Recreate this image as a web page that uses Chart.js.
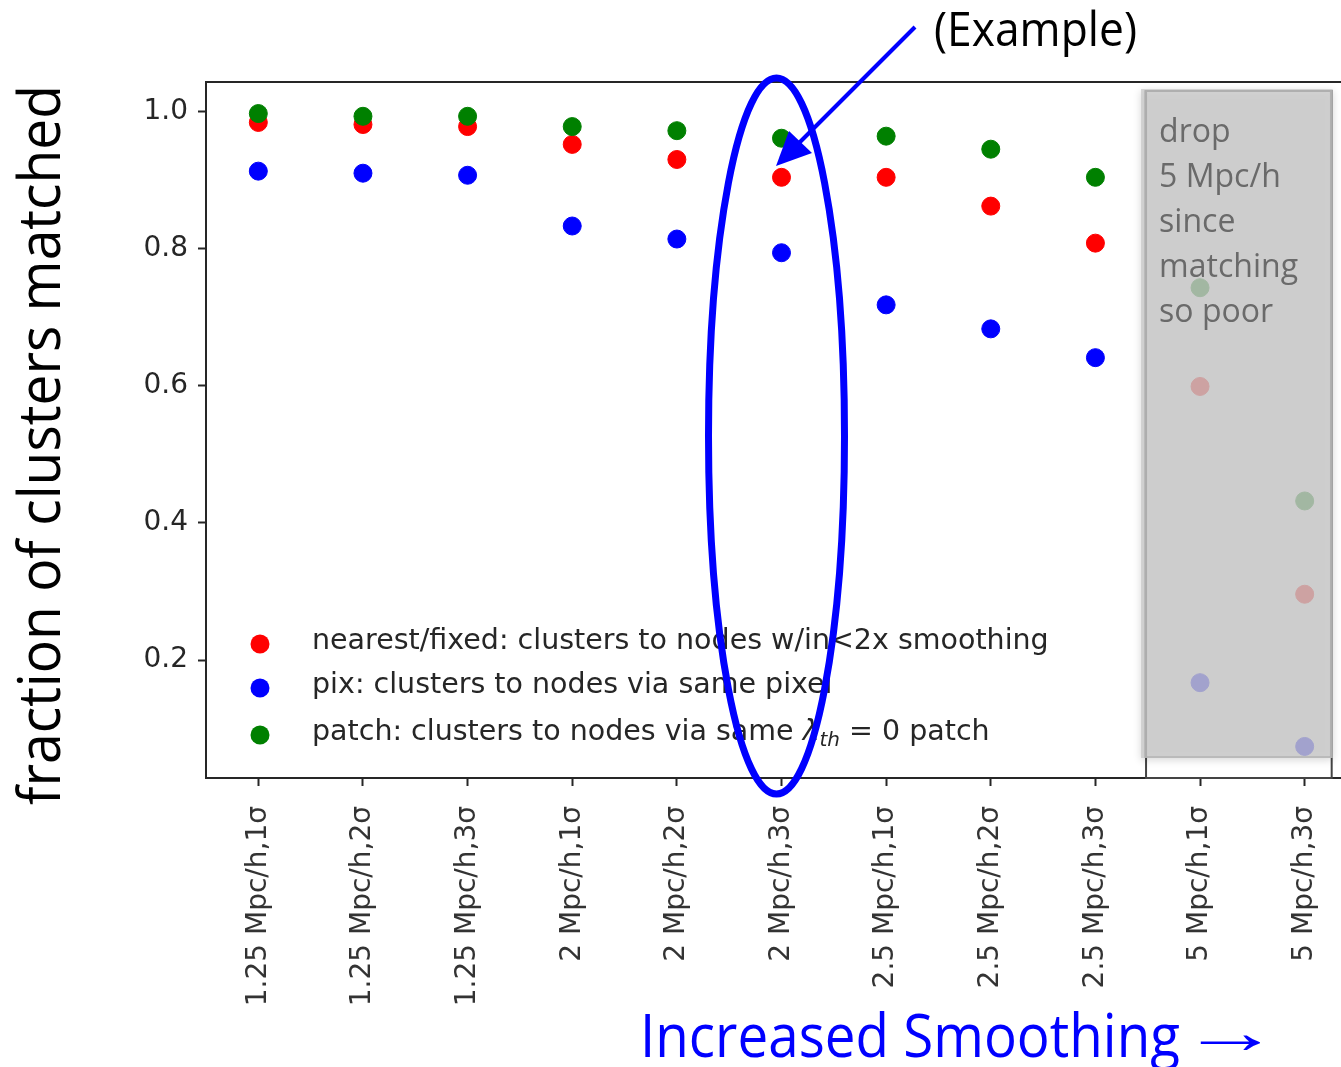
<!DOCTYPE html>
<html>
<head>
<meta charset="utf-8">
<title>fraction of clusters matched</title>
<script src="https://cdn.jsdelivr.net/npm/chart.js@4.4.0/dist/chart.umd.min.js"></script>
<style>
    html, body { margin: 0; padding: 0; background: #fff; overflow: hidden; }
    #wrap { position: relative; width: 1341px; height: 1067px; overflow: hidden; }
    canvas { display: block; }
</style>
</head>
<body>
<div id="wrap"><canvas id="graficoMatch" width="1367" height="1067"></canvas></div>
<script>

const smoothingLabels = ['1.25 Mpc/h,1σ', '1.25 Mpc/h,2σ', '1.25 Mpc/h,3σ', '2 Mpc/h,1σ', '2 Mpc/h,2σ', '2 Mpc/h,3σ',
    '2.5 Mpc/h,1σ', '2.5 Mpc/h,2σ', '2.5 Mpc/h,3σ', '5 Mpc/h,1σ', '5 Mpc/h,3σ'];

const nearestValues = [0.984, 0.981, 0.978, 0.952, 0.930, 0.904, 0.904, 0.862, 0.808, 0.599, 0.296];
const pixValues = [0.913, 0.910, 0.907, 0.833, 0.814, 0.794, 0.718, 0.683, 0.641, 0.167, 0.074];
const patchValues = [0.997, 0.993, 0.993, 0.978, 0.972, 0.961, 0.964, 0.945, 0.904, 0.743, 0.432];

const seriesLabels = ['nearest/fixed: clusters to nodes w/in<2x smoothing', 'pix: clusters to nodes via same pixel',
    'patch: clusters to nodes via same λth = 0 patch'];

const yTicks = [0.2, 0.4, 0.6, 0.8, 1.0];

// first category of the greyed-out block
const droppedFrom = 9;
const dropNote = ['drop', '5 Mpc/h', 'since', 'matching', 'so poor'];

document.addEventListener('DOMContentLoaded', function () {

    const contexto = document.getElementById('graficoMatch').getContext('2d');

    const labelFont = 'Open Sans';

    Chart.defaults.font.family = 'DejaVu Sans';

    // text squeezed horizontally to a given width (callout style text)
    function fittedText(ctx, text, x, y, width, size, color, rotate) {
        ctx.save();
        ctx.font = size + 'px "' + labelFont + '"';
        const sx = width / ctx.measureText(text).width;
        ctx.translate(x, y);
        if (rotate) ctx.rotate(-Math.PI / 2);
        ctx.scale(sx, 1);
        ctx.fillStyle = color;
        ctx.textAlign = 'left';
        ctx.textBaseline = 'alphabetic';
        ctx.fillText(text, 0, 0);
        ctx.restore();
    }

    function drawLegend(chart) {
        const ctx = chart.ctx;
        const rows = [642, 686, 733];
        ctx.save();
        ctx.textBaseline = 'middle';
        chart.data.datasets.forEach((ds, i) => {
            const y = rows[i];
            ctx.beginPath();
            ctx.arc(260, y + 2, 9.5, 0, Math.PI * 2);
            ctx.fillStyle = ds.backgroundColor;
            ctx.fill();

            ctx.fillStyle = '#262626';
            ctx.font = '28.5px "DejaVu Sans"';
            const parts = ds.label.split('λth');
            let x = 312;
            ctx.fillText(parts[0], x, y);
            if (parts.length > 1) {
                x += ctx.measureText(parts[0]).width;
                ctx.font = 'italic 28.5px "DejaVu Sans"';
                ctx.fillText('λ', x, y);
                x += ctx.measureText('λ').width;
                ctx.font = 'italic 20px "DejaVu Sans"';
                ctx.fillText('th', x, y + 8);
                x += ctx.measureText('th').width;
                ctx.font = '28.5px "DejaVu Sans"';
                ctx.fillText(parts[1], x, y);
            }
        });
        ctx.restore();
    }

    function drawDropBox(chart) {
        const ctx = chart.ctx;
        const xs = chart.scales.x;
        const area = chart.chartArea;
        const left = xs.getPixelForValue(droppedFrom) - 59;
        const right = xs.getPixelForValue(smoothingLabels.length - 1) + 28;
        const top = area.top + 7;
        const bottom = area.bottom - 20;

        ctx.save();
        ctx.strokeStyle = '#444';
        ctx.lineWidth = 2;
        ctx.strokeRect(left + 5, top + 2, right - left - 6, area.bottom - top - 2);

        ctx.shadowColor = 'rgba(0,0,0,0.2)';
        ctx.shadowBlur = 8;
        ctx.shadowOffsetY = 2;
        ctx.fillStyle = 'rgba(202,202,202,0.8)';
        ctx.fillRect(left, top, right - left, bottom - top);
        ctx.shadowColor = 'transparent';
        ctx.strokeStyle = 'rgba(175,175,175,0.9)';
        ctx.lineWidth = 1.5;
        ctx.strokeRect(left + 4, top + 2, right - left - 6, bottom - top - 3);
        ctx.restore();

        // all lines share the squeeze of the longest one
        ctx.save();
        ctx.font = '33px "' + labelFont + '"';
        const sx = 139 / ctx.measureText('matching').width;
        ctx.fillStyle = '#6a6a6a';
        dropNote.forEach((line, i) => {
            ctx.save();
            ctx.translate(left + 18, 142 + i * 45);
            ctx.scale(sx, 1);
            ctx.fillText(line, 0, 0);
            ctx.restore();
        });
        ctx.restore();
    }

    function drawCallouts(chart) {
        const ctx = chart.ctx;
        ctx.save();

        ctx.strokeStyle = '#0000ff';
        ctx.lineWidth = 7;
        ctx.beginPath();
        ctx.ellipse(776.5, 436, 68, 358, 0, 0, Math.PI * 2);
        ctx.stroke();

        // pointer arrow
        ctx.lineWidth = 4;
        ctx.beginPath();
        ctx.moveTo(915, 27);
        ctx.lineTo(797, 145);
        ctx.stroke();
        ctx.fillStyle = '#0000ff';
        ctx.beginPath();
        ctx.moveTo(776, 166);
        ctx.lineTo(789, 131);
        ctx.lineTo(812, 153);
        ctx.closePath();
        ctx.fill();
        ctx.restore();

        fittedText(ctx, '(Example)', 934, 46, 203, 47, '#000', false);
        fittedText(ctx, 'fraction of clusters matched', 60, 805, 720, 58, '#000', true);
        fittedText(ctx, 'Increased Smoothing', 640, 1057, 540, 60, '#0000ff', false);
        fittedText(ctx, '→', 1180, 1053, 100, 62, '#0000ff', false);
    }

    const anotacoes = {
        id: 'anotacoes',
        beforeDatasetsDraw(chart) {
            const ctx = chart.ctx;
            const area = chart.chartArea;
            ctx.save();
            ctx.strokeStyle = '#262626';
            ctx.lineWidth = 2;
            ctx.beginPath();
            ctx.moveTo(area.left, area.top);
            ctx.lineTo(area.right, area.top);
            ctx.lineTo(area.right, area.bottom);
            ctx.stroke();
            ctx.restore();
        },
        afterDatasetsDraw(chart) {
            drawDropBox(chart);
            drawLegend(chart);
        },
        afterDraw(chart) {
            drawCallouts(chart);
        }
    };

    function serie(label, values, color, order) {
        return {
            label: label,
            data: values,
            showLine: false,
            backgroundColor: color,
            borderColor: color,
            pointRadius: 9,
            pointHoverRadius: 9,
            pointBorderWidth: 1,
            order: order
        };
    }

    const eixo = {
        grid: { drawOnChartArea: false, drawTicks: true, tickLength: 8, tickWidth: 2, color: '#262626' },
        border: { display: true, color: '#262626', width: 2 }
    };

    new Chart(contexto, {

        type: 'line',

        data: {
            labels: smoothingLabels,
            datasets: [
                serie(seriesLabels[0], nearestValues, '#ff0000', 2),
                serie(seriesLabels[1], pixValues, '#0000ff', 1),
                serie(seriesLabels[2], patchValues, '#008000', 0)
            ]
        },

        options: {
            responsive: false,
            animation: false,
            devicePixelRatio: 1,
            layout: { padding: { top: 82, right: 5, left: 0, bottom: 0 } },
            plugins: {
                legend: { display: false },
                tooltip: { enabled: false }
            },
            scales: {
                x: {
                    type: 'category',
                    offset: true,
                    grid: Object.assign({}, eixo.grid, { offset: false }),
                    border: eixo.border,
                    ticks: {
                        autoSkip: false,
                        minRotation: 90,
                        maxRotation: 90,
                        padding: 20,
                        color: '#333',
                        font: { size: 28 }
                    },
                    afterFit(scale) { scale.height = 1067 - 778; }
                },
                y: {
                    min: 0.028,
                    max: 1.043,
                    grid: eixo.grid,
                    border: eixo.border,
                    afterBuildTicks(scale) {
                        scale.ticks = yTicks.map(v => ({ value: v }));
                    },
                    ticks: {
                        padding: 10,
                        color: '#262626',
                        font: { size: 28 },
                        callback: v => v.toFixed(1)
                    },
                    afterFit(scale) { scale.width = 206; }
                }
            }
        },

        plugins: [anotacoes]
    });

});
</script>
</body>
</html>
